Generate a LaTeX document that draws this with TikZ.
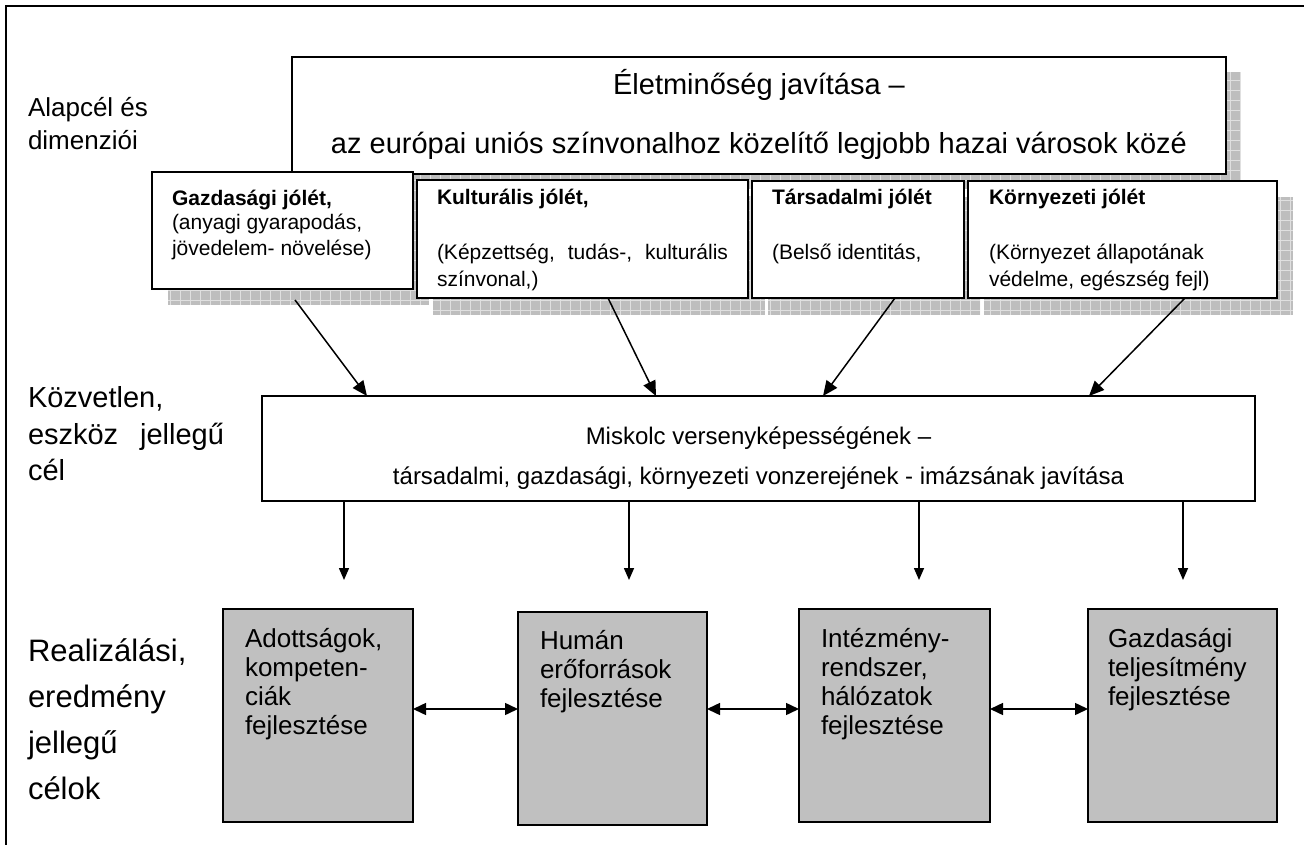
\documentclass[tikz,border=0pt]{standalone}
\usepackage{fontspec}
\setmainfont{Liberation Sans}
\usetikzlibrary{arrows.meta}
\definecolor{shfill}{RGB}{190,190,190}
\definecolor{shgrid}{RGB}{224,224,224}
\definecolor{boxgray}{RGB}{192,192,192}
\newcommand{\fs}[2]{\fontsize{#1}{#2}\selectfont}
\newcommand{\hatchshadow}[4]{%
  \begin{scope}
    \clip (#1,#2) rectangle (#3,#4);
    \fill[shfill] (#1,#2) rectangle (#3,#4);
    \draw[shgrid, line width=0.8pt, step=10pt] (#1,#4) grid (#3,#2);
  \end{scope}}
\tikzset{
  every node/.style={inner sep=0pt, outer sep=0pt},
  wd/.style={minimum width=#1pt},
  ht/.style={minimum height=#1pt},
  frame/.style={line width=2pt},
  wbox/.style={draw, line width=2pt, fill=white, anchor=north west},
  gbox/.style={draw, line width=1.5pt, fill=boxgray, anchor=north west},
  txt/.style={anchor=base west, align=left},
  ctxt/.style={anchor=base, align=center},
  arr/.style={-{Triangle[length=15pt,width=13pt]}, line width=1.5pt},
  downarr/.style={-{Triangle[length=12pt,width=10pt]}, line width=1.5pt},
  darr/.style={{Triangle[length=13pt,width=12pt]}-{Triangle[length=13pt,width=12pt]}, line width=1.5pt}
}
\begin{document}
\begin{tikzpicture}[x=1pt,y=-1pt]
\useasboundingbox (0,0) rectangle (1304,845);
\draw[frame] (6,845) -- (6,6) -- (1304,6);

% left labels (base anchor = baseline of the last line)
\node[txt, font=\fs{26}{33}] (lab1) at (28,150) {Alapcél és\\dimenziói};
\node[txt, font=\fs{29}{36.5}] (lab2) at (28,480.5) {Közvetlen,\\\makebox[196pt][s]{eszköz jellegű}\\cél};
\node[txt, font=\fs{31}{46}] (lab3) at (28,799) {Realizálási,\\eredmény\\jellegű\\célok};

% top box
\hatchshadow{307}{72}{1241}{189}
\node[wbox, wd=934, ht=117] (T0) at (292,57) {};
\node[ctxt, font=\fs{29}{59}] (T0txt) at (759,154) {Életminőség javítása –\\az európai uniós színvonalhoz közelítő legjobb hazai városok közé};

% dimension boxes
\hatchshadow{168}{188}{429}{305}
\node[wbox, wd=261, ht=117] (G) at (152,172) {};
\node[txt, font=\fs{21}{25}] (Gt) at (172,255) {\textbf{Gazdasági jólét,}\\(anyagi gyarapodás,\\jövedelem- növelése)};

\hatchshadow{433}{196}{765}{315}
\node[wbox, wd=331, ht=118] (K) at (417,180) {};
\node[txt, font=\fs{21}{27.5}] (Kt) at (437,287) {\textbf{Kulturális jólét,}\\[27.5pt]\makebox[291pt][s]{(Képzettség, tudás-, kulturális}\\színvonal,)};

\hatchshadow{768}{197}{980}{315}
\node[wbox, wd=212, ht=117] (S) at (752,181) {};
\node[txt, font=\fs{21}{27.5}] (St) at (772,259.5) {\textbf{Társadalmi jólét}\\[27.5pt](Belső identitás,};

\hatchshadow{984}{197}{1293}{315}
\node[wbox, wd=309, ht=117] (E) at (968,181) {};
\node[txt, font=\fs{21}{27.5}] (Et) at (989,287) {\textbf{Környezeti jólét}\\[27.5pt](Környezet állapotának\\védelme, egészség fejl)};

% middle box
\node[wbox, wd=993, ht=105] (M) at (262,396) {};
\node[ctxt, font=\fs{24}{40}] (Mt) at (758.5,484) {Miskolc versenyképességének –\\társadalmi, gazdasági, környezeti vonzerejének - imázsának javítása};

% bottom boxes
\node[gbox, wd=190, ht=213] (A) at (223,609) {};
\node[gbox, wd=189, ht=213] (H) at (518,612) {};
\node[gbox, wd=191, ht=213] (I) at (799,609) {};
\node[gbox, wd=189, ht=213] (Z) at (1088,609) {};
\node[txt, font=\fs{26}{29}] (At) at (245,734) {Adottságok,\\kompeten-\\ciák\\fejlesztése};
\node[txt, font=\fs{26}{29}] (Ht) at (540,707) {Humán\\erőforrások\\fejlesztése};
\node[txt, font=\fs{26}{29}] (It) at (821,734) {Intézmény-\\rendszer,\\hálózatok\\fejlesztése};
\node[txt, font=\fs{26}{29}] (Zt) at (1108,705) {Gazdasági\\teljesítmény\\fejlesztése};

% arrows to middle box
\draw[arr] ([xshift=143pt,yshift=-11pt]G.south west) -- ([xshift=105pt]M.north west);
\draw[arr] ([xshift=191pt]K.south west) -- ([xshift=394pt]M.north west);
\draw[arr] ([xshift=143pt]S.south west) -- ([xshift=561pt]M.north west);
\draw[arr] ([xshift=217pt]E.south west) -- ([xshift=827pt]M.north west);

% arrows down
\coordinate (d1) at (344,580);
\coordinate (d2) at (629,580);
\coordinate (d3) at (919,580);
\coordinate (d4) at (1183,580);
\draw[downarr] (M.south -| d1) -- (d1);
\draw[downarr] (M.south -| d2) -- (d2);
\draw[downarr] (M.south -| d3) -- (d3);
\draw[downarr] (M.south -| d4) -- (d4);

% double arrows
\coordinate (ay) at (0,709);
\draw[darr] (A.east |- ay) -- (H.west |- ay);
\draw[darr] (H.east |- ay) -- (I.west |- ay);
\draw[darr] (I.east |- ay) -- (Z.west |- ay);
\end{tikzpicture}
\end{document}
